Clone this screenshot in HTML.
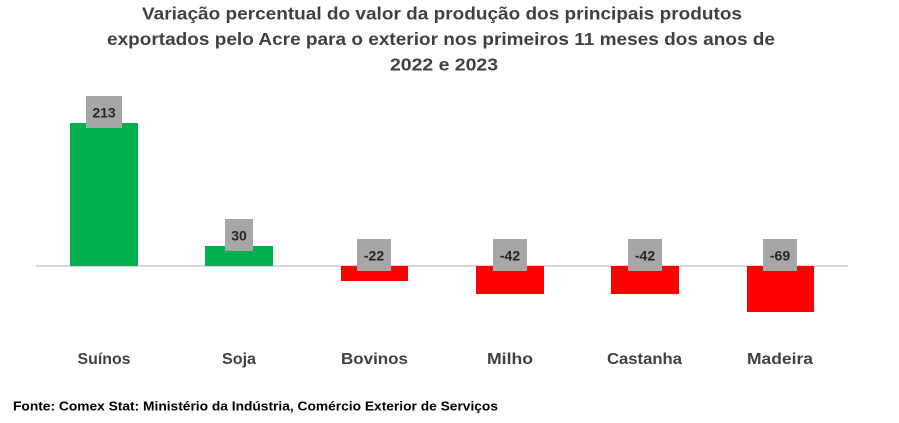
<!DOCTYPE html>
<html>
<head>
<meta charset="utf-8">
<style>
  html,body{margin:0;padding:0;background:#fff;}
  svg{display:block;}
  text{font-family:"Liberation Sans",sans-serif;font-weight:bold;}
</style>
</head>
<body>
<svg width="899" height="423" viewBox="0 0 899 423" xmlns="http://www.w3.org/2000/svg">
  <rect width="899" height="423" fill="#fff"/>
  <!-- Title -->
  <g fill="#404040" font-size="17.5">
    <text x="142" y="19.5" textLength="600" lengthAdjust="spacingAndGlyphs">Variação percentual do valor da produção dos principais produtos</text>
    <text x="107" y="45" textLength="668" lengthAdjust="spacingAndGlyphs">exportados pelo Acre para o exterior nos primeiros 11 meses dos anos de</text>
    <text x="390" y="70.5" textLength="108" lengthAdjust="spacingAndGlyphs">2022 e 2023</text>
  </g>

  <!-- baseline gridline -->
  <rect x="36" y="265" width="812" height="2" fill="#d9d9d9"/>

  <!-- bars -->
  <rect x="70" y="123" width="68" height="143" fill="#00b050"/>
  <rect x="205" y="246" width="68" height="20" fill="#00b050"/>
  <rect x="341" y="266" width="67" height="15" fill="#ff0000"/>
  <rect x="476" y="266" width="68" height="28" fill="#ff0000"/>
  <rect x="611" y="266" width="68" height="28" fill="#ff0000"/>
  <rect x="747" y="266" width="67" height="46" fill="#ff0000"/>

  <!-- data label boxes -->
  <g fill="#a6a6a6">
    <rect x="86" y="96" width="36" height="32"/>
    <rect x="225" y="219" width="28" height="32"/>
    <rect x="357" y="239" width="34" height="32"/>
    <rect x="493" y="239" width="34" height="32"/>
    <rect x="628" y="239" width="34" height="32"/>
    <rect x="763" y="239" width="34" height="32"/>
  </g>
  <g fill="#262626" font-size="14" text-anchor="middle">
    <text x="104" y="117.5">213</text>
    <text x="239" y="240.5">30</text>
    <text x="374" y="260.5">-22</text>
    <text x="510" y="260.5">-42</text>
    <text x="645" y="260.5">-42</text>
    <text x="780" y="260.5">-69</text>
  </g>

  <!-- category labels -->
  <g fill="#404040" font-size="16" text-anchor="middle">
    <text x="104" y="364" textLength="53" lengthAdjust="spacingAndGlyphs">Suínos</text>
    <text x="239" y="364" textLength="34" lengthAdjust="spacingAndGlyphs">Soja</text>
    <text x="374.5" y="364" textLength="67" lengthAdjust="spacingAndGlyphs">Bovinos</text>
    <text x="510" y="364" textLength="46" lengthAdjust="spacingAndGlyphs">Milho</text>
    <text x="644.5" y="364" textLength="75" lengthAdjust="spacingAndGlyphs">Castanha</text>
    <text x="780" y="364" textLength="66" lengthAdjust="spacingAndGlyphs">Madeira</text>
  </g>

  <!-- source -->
  <text x="13" y="410.5" fill="#000" font-size="12.5" textLength="485" lengthAdjust="spacingAndGlyphs">Fonte: Comex Stat: Ministério da Indústria, Comércio Exterior de Serviços</text>
</svg>
</body>
</html>
